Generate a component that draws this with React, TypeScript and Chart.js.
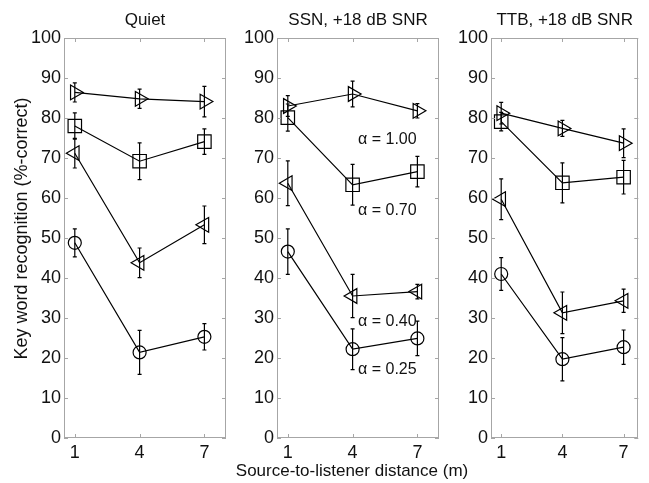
import React, { useEffect, useRef } from "react";
import { Chart, registerables } from "chart.js";

Chart.register(...registerables);

// ---------- data ----------
const distances = [1, 4, 7];
const yTickValues = [0, 10, 20, 30, 40, 50, 60, 70, 80, 90, 100];
const panelTitles = ["Quiet", "SSN, +18 dB SNR", "TTB, +18 dB SNR"];
const xAxisTitle = "Source-to-listener distance (m)";
const yAxisTitle = "Key word recognition (%-correct)";
const alphaLabels = ["\u03b1 = 1.00", "\u03b1 = 0.70", "\u03b1 = 0.40", "\u03b1 = 0.25"];

// Quiet
const quietA100 = [86.4, 84.8, 84.1];
const quietA100Err = [2.4, 2.4, 3.8];
const quietA070 = [78.0, 69.2, 74.1];
const quietA070Err = [3.3, 4.6, 3.2];
const quietA040 = [71.2, 43.8, 53.3];
const quietA040Err = [3.7, 3.7, 4.7];
const quietA025 = [48.8, 21.4, 25.3];
const quietA025Err = [3.5, 5.5, 3.3];

// SSN, +18 dB SNR
const ssnA100 = [83.0, 86.0, 81.8];
const ssnA100Err = [2.6, 3.2, 1.8];
const ssnA070 = [80.1, 63.3, 66.6];
const ssnA070Err = [3.4, 5.1, 3.8];
const ssnA040 = [63.7, 35.5, 36.6];
const ssnA040Err = [5.6, 5.4, 1.8];
const ssnA025 = [46.6, 22.2, 24.9];
const ssnA025Err = [5.7, 5.1, 4.3];

// TTB, +18 dB SNR
const ttbA100 = [81.2, 77.4, 73.7];
const ttbA100Err = [2.7, 2.0, 3.6];
const ttbA070 = [79.1, 63.8, 65.2];
const ttbA070Err = [2.3, 5.0, 4.2];
const ttbA040 = [59.7, 31.3, 34.3];
const ttbA040Err = [5.1, 5.2, 2.9];
const ttbA025 = [41.0, 19.7, 22.7];
const ttbA025Err = [4.1, 5.4, 4.3];

// ---------- layout / style ----------
const W = 649;
const H = 483;
const FONT = "'Liberation Sans', Arial, Helvetica, sans-serif";
const TEXT = "#111";
const BOX = "#a6a6a6";
const Y_W = 50;
const X_H = 30;
const AREA_TOP = 38;
const AREA_BOTTOM = 438;

const seriesStyles = [
  { pointStyle: "triangle", rotation: 90, radius: 8.5 },
  { pointStyle: "rect", rotation: 0, radius: 9.5 },
  { pointStyle: "triangle", rotation: -90, radius: 8.5 },
  { pointStyle: "circle", rotation: 0, radius: 6.5 },
];

const panels = [
  {
    title: panelTitles[0],
    left: 64, right: 226, xMin: 0.5, xMax: 8,
    series: [quietA100, quietA070, quietA040, quietA025],
    errors: [quietA100Err, quietA070Err, quietA040Err, quietA025Err],
    yTitle: true, xTitle: false, alpha: null as null | { x: number; y: number }[],
  },
  {
    title: panelTitles[1],
    left: 277, right: 439, xMin: 0.5, xMax: 8,
    series: [ssnA100, ssnA070, ssnA040, ssnA025],
    errors: [ssnA100Err, ssnA070Err, ssnA040Err, ssnA025Err],
    yTitle: false, xTitle: true,
    alpha: [
      { x: 4.25, y: 74.5 },
      { x: 4.25, y: 56.8 },
      { x: 4.25, y: 29.0 },
      { x: 4.25, y: 17.0 },
    ],
  },
  {
    title: panelTitles[2],
    left: 491, right: 647, xMin: 0.5, xMax: 7.72,
    series: [ttbA100, ttbA070, ttbA040, ttbA025],
    errors: [ttbA100Err, ttbA070Err, ttbA040Err, ttbA025Err],
    yTitle: false, xTitle: false, alpha: null,
  },
];

function makeDecor(panel: any) {
  return {
    id: "decor",
    beforeDatasetsDraw(chart: any) {
      const ctx = chart.ctx;
      const xs = chart.scales.x;
      const ys = chart.scales.y;
      ctx.save();
      ctx.strokeStyle = "#000";
      ctx.lineWidth = 1.2;
      panel.series.forEach((vals: number[], si: number) => {
        const errs = panel.errors[si];
        vals.forEach((v: number, i: number) => {
          const px = xs.getPixelForValue(distances[i]);
          const top = ys.getPixelForValue(v + errs[i]);
          const bot = ys.getPixelForValue(v - errs[i]);
          ctx.beginPath();
          ctx.moveTo(px, top);
          ctx.lineTo(px, bot);
          ctx.moveTo(px - 2, top);
          ctx.lineTo(px + 2, top);
          ctx.moveTo(px - 2, bot);
          ctx.lineTo(px + 2, bot);
          ctx.stroke();
        });
      });
      ctx.restore();
    },
    afterDraw(chart: any) {
      const ctx = chart.ctx;
      const a = chart.chartArea;
      const xs = chart.scales.x;
      const ys = chart.scales.y;
      ctx.save();
      // box
      ctx.strokeStyle = BOX;
      ctx.lineWidth = 1;
      ctx.strokeRect(Math.round(a.left) + 0.5, Math.round(a.top) + 0.5,
        Math.round(a.right - a.left) - 1, Math.round(a.bottom - a.top) - 1);
      // inward ticks
      ctx.beginPath();
      yTickValues.forEach((v) => {
        const py = Math.round(ys.getPixelForValue(v)) + 0.5;
        ctx.moveTo(a.left, py);
        ctx.lineTo(a.left + 4, py);
        ctx.moveTo(a.right, py);
        ctx.lineTo(a.right - 4, py);
      });
      distances.forEach((d) => {
        const px = Math.round(xs.getPixelForValue(d)) + 0.5;
        ctx.moveTo(px, a.bottom);
        ctx.lineTo(px, a.bottom - 4);
        ctx.moveTo(px, a.top);
        ctx.lineTo(px, a.top + 4);
      });
      ctx.stroke();
      // texts
      ctx.fillStyle = TEXT;
      ctx.font = `17px ${FONT}`;
      ctx.textAlign = "center";
      ctx.textBaseline = "alphabetic";
      ctx.fillText(panel.title, (a.left + a.right) / 2, a.top - 13);
      if (panel.xTitle) {
        ctx.fillText(xAxisTitle, 352, 476);
      }
      if (panel.yTitle) {
        ctx.save();
        ctx.font = `18px ${FONT}`;
        ctx.translate(22, 228.5);
        ctx.rotate(-Math.PI / 2);
        ctx.textBaseline = "middle";
        ctx.fillText(yAxisTitle, 0, 0);
        ctx.restore();
      }
      if (panel.alpha) {
        ctx.font = `16px ${FONT}`;
        ctx.textAlign = "left";
        ctx.textBaseline = "middle";
        panel.alpha.forEach((p: any, i: number) => {
          ctx.fillText(alphaLabels[i], xs.getPixelForValue(p.x), ys.getPixelForValue(p.y));
        });
      }
      ctx.restore();
    },
  };
}

function PanelChart({ panel }: { panel: any }) {
  const ref = useRef<HTMLCanvasElement | null>(null);
  useEffect(() => {
    if (!ref.current) return;
    const datasets = panel.series.map((vals: number[], si: number) => {
      const st = seriesStyles[si];
      return {
        data: vals.map((v, i) => ({ x: distances[i], y: v })),
        borderColor: "#000",
        borderWidth: 1.2,
        backgroundColor: "rgba(0,0,0,0)",
        pointStyle: st.pointStyle,
        pointRotation: st.rotation,
        pointRadius: st.radius,
        pointHoverRadius: st.radius,
        pointBorderColor: "#000",
        pointBackgroundColor: "rgba(0,0,0,0)",
        pointBorderWidth: 1.2,
        tension: 0,
        fill: false,
      };
    });
    const chart = new Chart(ref.current, {
      type: "line",
      data: { datasets },
      options: {
        responsive: false,
        animation: false,
        devicePixelRatio: 1,
        layout: {
          padding: {
            left: panel.left - Y_W,
            right: W - panel.right,
            top: AREA_TOP,
            bottom: H - AREA_BOTTOM - X_H,
          },
        },
        plugins: {
          legend: { display: false },
          tooltip: { enabled: false },
          title: { display: false },
        },
        scales: {
          x: {
            type: "linear",
            min: panel.xMin,
            max: panel.xMax,
            afterBuildTicks: (s: any) => {
              s.ticks = distances.map((d) => ({ value: d }));
            },
            afterFit: (s: any) => {
              s.height = X_H;
            },
            grid: { display: false, drawTicks: false },
            border: { display: false },
            ticks: {
              padding: 4,
              color: TEXT,
              font: { family: FONT, size: 18 },
              maxRotation: 0,
              autoSkip: false,
              callback: (v: any) => String(v),
            },
          },
          y: {
            type: "linear",
            min: 0,
            max: 100,
            afterBuildTicks: (s: any) => {
              s.ticks = yTickValues.map((d) => ({ value: d }));
            },
            afterFit: (s: any) => {
              s.width = Y_W;
            },
            grid: { display: false, drawTicks: false },
            border: { display: false },
            ticks: {
              padding: 3,
              color: TEXT,
              font: { family: FONT, size: 18 },
              callback: (v: any) => String(v),
            },
          },
        },
      },
      plugins: [makeDecor(panel)],
    } as any);
    return () => chart.destroy();
  }, [panel]);
  return (
    <canvas
      ref={ref}
      width={W}
      height={H}
      style={{ position: "absolute", left: 0, top: 0, width: W, height: H }}
    />
  );
}

export default function App() {
  return (
    <div style={{ position: "absolute", left: 0, top: 0, width: W, height: H, background: "#fff" }}>
      {panels.map((p, i) => (
        <PanelChart key={i} panel={p} />
      ))}
    </div>
  );
}
